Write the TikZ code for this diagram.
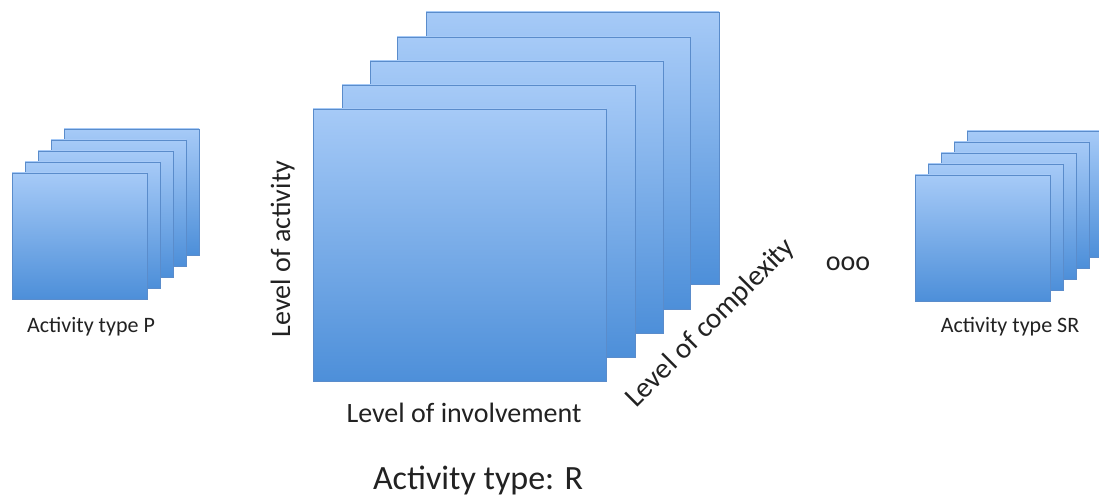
\documentclass[tikz,border=0pt]{standalone}
\usepackage{fontspec}
\setmainfont{Carlito}
\definecolor{sqtop}{HTML}{A6CAF7}
\definecolor{sqbot}{HTML}{4D8FD9}
\definecolor{sqline}{HTML}{5A8CCB}
\definecolor{txt}{HTML}{222222}
\begin{document}
\begin{tikzpicture}[x=1pt,y=-1pt,
  sheet/.style={draw=sqline, line width=0.6pt, top color=sqtop, bottom color=sqbot, anchor=north west, inner sep=0pt, outer sep=0pt},
  small/.style={sheet, minimum width=135pt, minimum height=126pt},
  big/.style={sheet, minimum width=293pt, minimum height=272pt},
  lbl/.style={text=txt, inner sep=0pt, font=\fontsize{28}{30}\selectfont},
  smalllbl/.style={text=txt, inner sep=0pt, font=\fontsize{22}{24}\selectfont}]
\clip (0,0) rectangle (1099,497);
\fill[white] (0,0) rectangle (1099,497);
% left stack
\node[small] (p5) at (64,129) {};
\node[small] (p4) at (51,140) {};
\node[small] (p3) at (38,151) {};
\node[small] (p2) at (25,162) {};
\node[small] (p1) at (12,173) {};
% middle stack
\node[big] (r5) at (426,12) {};
\node[big] (r4) at (397,37) {};
\node[big] (r3) at (370,61) {};
\node[big] (r2) at (342,85) {};
\node[big] (r1) at (313,109) {};
% right stack
\node[small] (s5) at (967,131) {};
\node[small] (s4) at (954,142) {};
\node[small] (s3) at (941,153) {};
\node[small] (s2) at (928,164) {};
\node[small] (s1) at (915,175) {};
% labels
\node[smalllbl, anchor=base] (lp) at (91,332) {Activity type P};
\node[smalllbl, anchor=base] (lsr) at (1010,332) {Activity type SR};
\node[lbl, anchor=base, rotate=90] (lact) at (290,249) {Level of activity};
\node[lbl, anchor=base] (linv) at (464,422) {Level of involvement};
\node[lbl, anchor=base west, rotate=45, font=\fontsize{29}{31}\selectfont] (lcomp) at (636,409) {Level of complexity};
\node[lbl, anchor=base] (dots) at (848,270) {ooo};
\node[text=txt, inner sep=0pt, anchor=base, font=\fontsize{34}{36}\selectfont] (title) at (478,489) {Activity type: R};
\end{tikzpicture}
\end{document}
